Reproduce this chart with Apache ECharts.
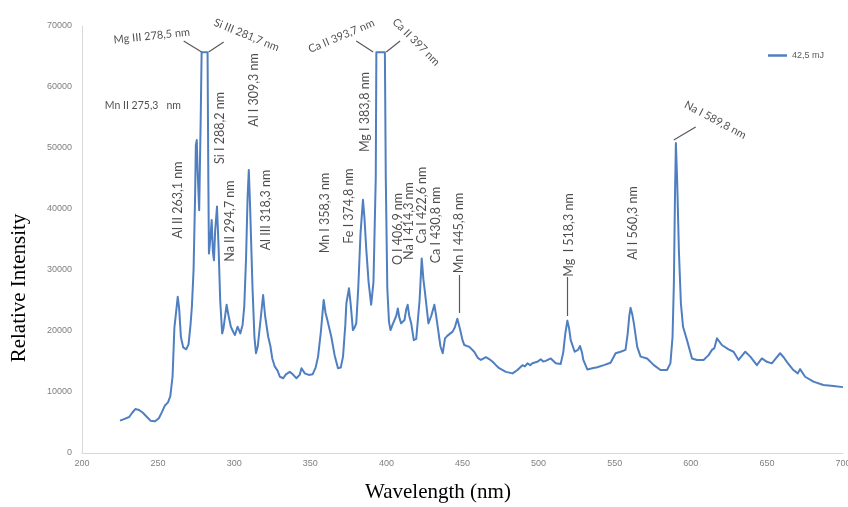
<!DOCTYPE html>
<html>
<head>
<meta charset="utf-8">
<script src="https://cdn.jsdelivr.net/npm/echarts@6/dist/echarts.min.js"></script>
<style>html,body{margin:0;padding:0;background:#fff}#c{width:848px;height:507px}</style>
</head>
<body>
<div id="c"></div>
<script>
// ---- data ----
const seriesName = '42,5 mJ';
const wavelength = [225,228,231,233,235,237.5,240,242.5,245,248,250.5,252.5,254.5,256.5,258,259.5,260.7,262,262.9,263.8,265,266.5,268.5,270,271.3,272.2,273.3,274.3,274.8,275.4,276,277,278,278.6,282.5,283,283.4,284.3,285.2,286,286.7,287.5,288.7,289.7,290.8,292.1,293,295,296.3,297.8,299.5,300.5,302.2,304,305.5,306.6,307.8,308.8,309.6,310.5,312,313.3,314.3,315.5,317.3,319,320.3,322.3,323.8,325,326.7,328.5,330,332.2,334,336.5,338.5,340.9,343,344.2,346.4,349,351.5,353.5,355.1,357,358.8,360,361.2,363.8,366,368.2,370,371.5,373,373.7,375.4,376.5,378,379,380.2,381.5,383,384.6,385.6,386.8,388.3,390,391.5,393,393.4,399,399.6,400.6,401.7,402.7,404,405.3,406.5,407.5,408.5,409.7,411,411.9,413,414,415,416.3,418,419.6,420.6,421.8,423.2,424.3,425.4,427.6,429.5,431.5,432.5,433.7,435.5,437,438.5,440,441.3,443.5,445,446.6,448.5,450,451.2,454.5,457.7,460,462.1,465.4,467.5,469.8,472,474.1,478.5,482.9,486.1,489.4,491,492.7,494.5,495.9,499.2,501.4,503,504.7,508,511.3,514.5,516.2,517.5,518.9,520,521.1,523.7,525.9,527.2,528.5,529.4,532,535.3,538.5,542.9,547.3,550.6,553.9,557.1,558.5,559.6,560.4,561.5,562.6,564.8,567,571.3,575.7,580.1,584.4,586.6,588,588.9,589.6,590.2,591,592.2,593.5,594.9,597.5,600.8,604.1,608.4,611.7,613.9,615.5,617.2,620.4,624.8,628.1,631.4,635.8,639.1,643.4,646.7,650,653.2,655.5,658.7,661,663.1,667.4,670.3,671.8,675.1,680.6,687.1,693.7,700];
const intensity = [5300,5600,5900,6600,7200,7050,6600,5950,5300,5200,5700,6700,7800,8300,9300,12500,20500,23500,25600,23800,19000,17300,17000,17800,21000,24000,30000,42000,50500,51300,46000,39800,55000,65700,65700,45000,32700,35000,38200,33000,31600,36500,40400,34000,25000,19600,20500,24300,22500,20700,19800,19350,20700,19600,21000,24000,32000,42000,46400,40000,27300,19000,16350,17500,21800,25900,22500,19100,17500,15500,14150,13500,12500,12250,12900,13300,12900,12250,12800,13900,13050,12800,12900,14000,15800,20000,25100,23000,21800,19050,16000,13900,14000,15800,21000,24550,27000,24500,20150,20500,21250,27000,36000,41500,38500,33300,28000,24300,28000,45000,65700,65700,45000,27000,21500,20150,21000,21800,22500,23700,22200,21250,21500,21800,23500,24300,22500,21250,18500,18700,18800,25000,31900,28500,26200,21250,22500,24300,22800,20700,17500,16350,18800,19200,19350,19900,20600,22000,20150,18500,17700,17400,16600,15600,15250,15700,15400,14950,14400,13900,13300,13050,13600,14400,14200,14700,14400,14700,14950,15350,15000,15100,15500,14700,14600,16500,19500,21700,20500,18500,16600,16900,17550,16500,15250,13700,13900,14050,14400,14800,16350,16600,16900,19500,22500,23800,22800,21250,17400,15800,15500,14400,13600,13600,14700,19000,28000,42000,50800,45000,33000,24500,20700,18500,15500,15250,15250,16050,16900,17200,18800,17700,17000,16600,15250,16600,15800,14400,15500,14950,14700,15400,16350,15700,14950,13600,13050,13750,12500,11700,11150,11000,10800];
const xTicks = [200,250,300,350,400,450,500,550,600,650,700];
const yTicks = [0,10000,20000,30000,40000,50000,60000,70000];
const peakLabels = ['Mg III 278,5 nm','Si III 281,7 nm','Mn II 275,3   nm','Al II 263,1 nm','Si I 288,2 nm','Al I 309,3 nm','Na II 294,7 nm','Al III 318,3 nm','Mn I 358,3 nm','Fe I 374,8 nm','Mg I 383,8 nm','Ca II 393,7 nm','Ca II 397 nm','O I 406,9 nm','Na I 414,3 nm','Ca I 422,6 nm','Ca I 430,8 nm','Mn I 445,8 nm','Mg  I 518,3 nm','Al I 560,3 nm','Na I 589,8 nm'];
const xTitle = 'Wavelength (nm)';
const yTitle = 'Relative Intensity';

// ---- annotation layout (data units: [wavelength, intensity, rotation, fontSize]) ----
const labelLayout = [
  [245.9,68360,6,11],[308.1,68520,-22,11],[240,56880,0,10.5],[262.9,41475,90,12.5],[290.4,53280,90,12.5],
  [312.7,59510,90,12.5],[297,38030,90,12.5],[320.6,39830,90,12.5],[359.9,39340,90,12.5],[375.6,40490,90,12.5],
  [386.1,55900,90,12.5],[370.4,68360,23,11],[419.5,67380,-45,11],[407.7,36720,90,12.5],[414.9,38030,90,12.5],
  [423.5,40650,90,12.5],[432.6,37380,90,12.5],[447.7,36070,90,12.5],[519.8,35740,90,12.5],[561.7,37700,90,12.5],
  [616.1,54590,-28,11]
];
const leaders = [
  [[266.8,67540],[278.6,65740]],[[283.2,65740],[293.1,67380]],
  [[380.2,67540],[391.3,65740]],[[399.9,65740],[409,67540]],
  [[447.7,29180],[447.7,22950]],[[519.1,28850],[519.1,22460]],
  [[588.8,51310],[603.2,53440]]
];

const chart = echarts.init(document.getElementById('c'), null, {renderer:'canvas'});
const lineData = wavelength.map((w,i)=>[w,intensity[i]]);
const labelData = peakLabels.map((t,i)=>({
  name:t, value:[labelLayout[i][0],labelLayout[i][1]],
  label:{rotate:labelLayout[i][2], fontSize:labelLayout[i][3]}
}));
const axisLab = {color:'#7f7f7f', fontSize:9, fontFamily:'Liberation Sans'};
chart.setOption({
  animation:false,
  grid:{left:82,right:5,top:26,bottom:54,containLabel:false,outerBoundsMode:'none'},
  legend:{
    data:[{name:seriesName,icon:'rect'}],
    left:763, top:46, itemWidth:19, itemHeight:2.5, itemGap:4,
    textStyle:{color:'#595959',fontSize:9,fontFamily:'Liberation Sans'}
  },
  xAxis:{
    type:'value', min:200, max:700, interval:50,
    axisLine:{show:true,lineStyle:{color:'#d9d9d9',width:1}},
    axisTick:{show:false}, splitLine:{show:false},
    axisLabel:Object.assign({margin:6,formatter:v=>xTicks.includes(v)?String(v):''},axisLab)
  },
  yAxis:{
    type:'value', min:0, max:70000, interval:10000,
    axisLine:{show:true,lineStyle:{color:'#d9d9d9',width:1}},
    axisTick:{show:false}, splitLine:{show:false},
    axisLabel:Object.assign({margin:10,formatter:v=>yTicks.includes(v)?String(v):''},axisLab)
  },
  graphic:[
    {type:'text', x:438, y:492, style:{text:xTitle, fill:'#000', font:'21px "Liberation Serif"', textAlign:'center', textVerticalAlign:'middle'}},
    {type:'text', x:19, y:288, rotation:Math.PI/2, style:{text:yTitle, fill:'#000', font:'21px "Liberation Serif"', textAlign:'center', textVerticalAlign:'middle'}}
  ],
  series:[
    {
      name:seriesName, type:'line', data:lineData, symbol:'none', smooth:false,
      lineStyle:{color:'#4f7fc1',width:2,join:'round'}, itemStyle:{color:'#4f7fc1'}
    },
    {
      name:'labels', type:'scatter', data:labelData, symbolSize:0, silent:true, clip:false,
      label:{show:true, position:'inside', formatter:p=>p.name, color:'#1f1f1f',
        fontSize:12, fontFamily:'Lato', align:'center', verticalAlign:'middle'},
      markLine:{
        silent:true, symbol:['none','none'], label:{show:false},
        lineStyle:{color:'#595959',width:1.2,type:'solid'},
        data:leaders.map(l=>[{coord:l[0]},{coord:l[1]}])
      }
    }
  ]
});
</script>
</body>
</html>
